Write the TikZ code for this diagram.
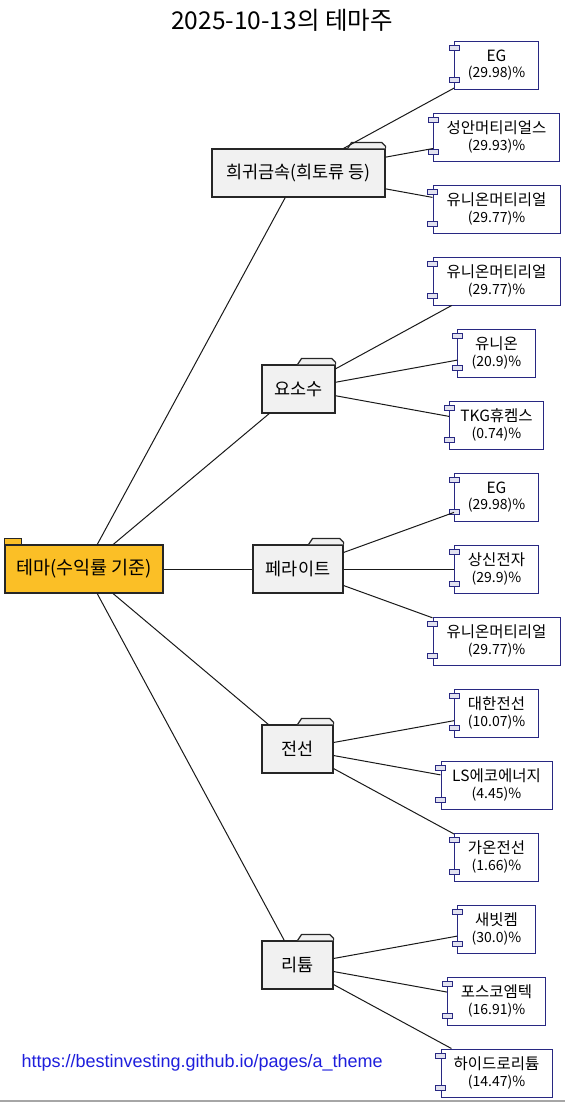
\documentclass[tikz,border=0pt]{standalone}
\usepackage{fontspec}
\setmainfont{Noto Sans CJK KR}
\newfontfamily\urlfont{Liberation Sans}
\definecolor{ThemeOrange}{RGB}{251, 191, 38}
\definecolor{FolderGray}{RGB}{241, 241, 241}
\definecolor{PartNavy}{RGB}{40, 40, 130}
\definecolor{PortLilac}{RGB}{226, 226, 240}
\definecolor{LinkBlue}{RGB}{30, 30, 220}
\newcommand{\pctline}[1]{{\fontsize{14}{16}\selectfont(#1)\%}}
\tikzset{
  theme/.style={draw=black!85, fill=ThemeOrange, line width=1.2pt, minimum height=48pt, inner sep=0pt, font=\fontsize{18.5}{20}\selectfont},
  folder/.style={draw=black!85, fill=FolderGray, line width=1.2pt, minimum height=48pt, inner sep=0pt, font=\fontsize{17.5}{20}\selectfont},
  foldertab/.style={draw=black!85, fill=FolderGray, line width=1.2pt, line join=round},
  part/.style={draw=PartNavy, fill=white, line width=1pt, minimum height=48pt, inner sep=0pt, align=center, font=\fontsize{15.5}{16.5}\selectfont},
  port/.style={draw=PartNavy, fill=PortLilac, line width=0.8pt},
  edge/.style={draw=black!90, line width=1pt}
}
\begin{document}
\begin{tikzpicture}[x=1pt, y=-1pt]
    \useasboundingbox (0,0) rectangle (565,1103);
    \node[font=\fontsize{24.5}{28}\selectfont] (title) at (282,20) {2025-10-13의 테마주};

    % Root theme
    \node[theme, minimum width=158pt] (root) at (84,569) {테마(수익률 기준)};
    \draw[line width=1.2pt, draw=black!85, fill=ThemeOrange] (root.north west) rectangle ([xshift=17pt,yshift=6pt]root.north west);

    % Theme folders
    \node[folder, minimum width=173pt] (rare) at (298.5,173) {희귀금속(희토류 등)};
    \node[folder, minimum width=73pt] (urea) at (298.5,389) {요소수};
    \node[folder, minimum width=90pt] (ferr) at (298,569) {페라이트};
    \node[folder, minimum width=71pt] (wire) at (297.5,749) {전선};
    \node[folder, minimum width=71pt] (lith) at (297.5,965) {리튬};
    \foreach \f/\w in {rare/38, urea/38, ferr/35, wire/36, lith/36} {
      \draw[foldertab] ([xshift=-\w pt]\f.north east) -- ++(4pt,6pt) -- ([xshift=-4pt,yshift=6pt]\f.north east) -- ([yshift=2pt]\f.north east) -- (\f.north east);
    }

    % Stocks
    \foreach \n/\y/\w/\name/\val in {1/65/84/EG/29.98, 2/137/126/성안머티리얼스/29.93, 3/209/127/유니온머티리얼/29.77,
        4/281/127/유니온머티리얼/29.77, 5/353/78/유니온/20.9, 6/425/94/TKG휴켐스/0.74,
        7/497/84/EG/29.98, 8/569/84/상신전자/29.9, 9/641/127/유니온머티리얼/29.77,
        10/713/84/대한전선/10.07, 11/785/111/LS에코에너지/4.45, 12/857/84/가온전선/1.66,
        13/929/78/새빗켐/30.0, 14/1001/98/포스코엠텍/16.91, 15/1073/111/하이드로리튬/14.47} {
      \node[part, minimum width=\w pt] (c\n) at (496.5,\y) {\name\\\pctline{\val}};
      \draw[port] ([xshift=-5pt,yshift=-5pt]c\n.north west) rectangle ([xshift=5pt,yshift=-10pt]c\n.north west);
      \draw[port] ([xshift=-5pt,yshift=7pt]c\n.south west) rectangle ([xshift=5pt,yshift=12pt]c\n.south west);
    }

    % Links
    \foreach \f in {rare, urea, ferr, wire, lith} {
      \draw[edge] (root) -- (\f);
    }
    \foreach \f/\n in {rare/1, rare/2, rare/3, urea/4, urea/5, urea/6, ferr/7, ferr/8, ferr/9,
        wire/10, wire/11, wire/12, lith/13, lith/14, lith/15} {
      \draw[edge] (\f) -- (c\n);
    }

    \node[font=\urlfont\fontsize{18}{21}\selectfont, text=LinkBlue, anchor=west] (url) at (18,1063) {https://bestinvesting.github.io/pages/a\_theme};
    \draw[gray!70, line width=1.5pt] (0,1101) -- (565,1101);
\end{tikzpicture}
\end{document}
